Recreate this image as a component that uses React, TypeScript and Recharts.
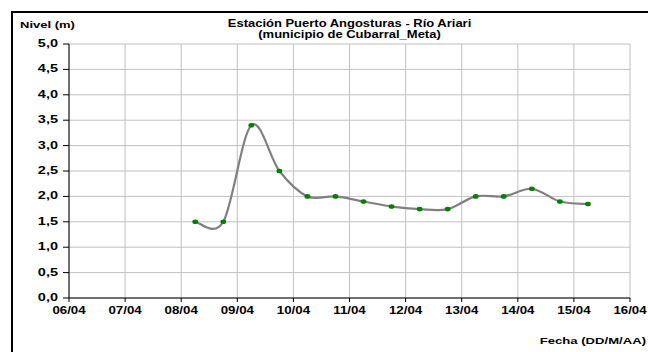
import React from 'react';
import { LineChart, Line, XAxis, YAxis, CartesianGrid } from 'recharts';

// dates on the x axis (one tick per day)
const dayLabels = ['06/04', '07/04', '08/04', '09/04', '10/04', '11/04', '12/04', '13/04', '14/04', '15/04', '16/04'];
const firstDay = 6;

// readings: day of April + hour
const readingDay = [8, 8, 9, 9, 10, 10, 11, 11, 12, 12, 13, 13, 14, 14, 15];
const readingHour = [6, 18, 6, 18, 6, 18, 6, 18, 6, 18, 6, 18, 6, 18, 6];
const nivel = [1.5, 1.5, 3.4, 2.5, 2.0, 2.0, 1.9, 1.8, 1.75, 1.75, 2.0, 2.0, 2.15, 1.9, 1.85];

const yTicks = [0, 0.5, 1, 1.5, 2, 2.5, 3, 3.5, 4, 4.5, 5];

const data = readingDay.map((d, i) => ({
  t: d - firstDay + readingHour[i] / 24,
  nivel: nivel[i],
}));

const xTicks = dayLabels.map((_, i) => i);

const FONT = '"Liberation Sans", Arial, sans-serif';

// Excel style smoothed line (bezier, 1/6 tangents)
const excelCurve = (context: any) => {
  let pts: number[][] = [];
  return {
    areaStart() {},
    areaEnd() {},
    lineStart() {
      pts = [];
    },
    point(x: number, y: number) {
      pts.push([+x, +y]);
    },
    lineEnd() {
      const n = pts.length;
      if (!n) return;
      context.moveTo(pts[0][0], pts[0][1]);
      for (let i = 0; i < n - 1; i++) {
        const p0 = pts[Math.max(i - 1, 0)];
        const p1 = pts[i];
        const p2 = pts[i + 1];
        const p3 = pts[Math.min(i + 2, n - 1)];
        context.bezierCurveTo(
          p1[0] + (p2[0] - p0[0]) / 6,
          p1[1] + (p2[1] - p0[1]) / 6,
          p2[0] - (p3[0] - p1[0]) / 6,
          p2[1] - (p3[1] - p1[1]) / 6,
          p2[0],
          p2[1]
        );
      }
    },
  };
};

const XTick = (props: any) => {
  const { x, y, payload } = props;
  return (
    <g transform={`translate(${x},${y})`}>
      <text transform="scale(1.33,1)" textAnchor="middle" dy="0.72em" fontSize={10} fontWeight="bold" fontFamily={FONT} fill="#000">
        {dayLabels[payload.value]}
      </text>
    </g>
  );
};

const YTick = (props: any) => {
  const { x, y, payload } = props;
  return (
    <g transform={`translate(${x},${y})`}>
      <text transform="scale(1.45,1)" textAnchor="end" dy="0.3em" fontSize={10} fontWeight="bold" fontFamily={FONT} fill="#000">
        {payload.value.toFixed(1).replace('.', ',')}
      </text>
    </g>
  );
};

const Dot = (props: any) => {
  const { cx, cy, index } = props;
  return <ellipse key={`dot-${index}`} cx={cx} cy={cy} rx={2.9} ry={2.3} fill="#008000" />;
};

const Label = ({ x, y, anchor, size, sx, children }: any) => (
  <g transform={`translate(${x},${y})`}>
    <text transform={`scale(${sx},1)`} textAnchor={anchor} fontSize={size} fontWeight="bold" fontFamily={FONT} fill="#000">
      {children}
    </text>
  </g>
);

export default function App() {
  return (
    <div style={{ position: 'fixed', left: 0, top: 0, width: 648, height: 352, overflow: 'hidden', background: '#fff' }}>
      <div style={{ position: 'absolute', left: 11, top: 11, width: 700, height: 400, border: '2px solid #000' }} />
      <div style={{ position: 'absolute', left: 0, top: 0 }}>
        <LineChart width={648} height={352} data={data} margin={{ top: 44, right: 18, left: 0, bottom: 24 }}>
          <CartesianGrid stroke="#c0c0c0" strokeWidth={1} />
          <XAxis
            type="number"
            dataKey="t"
            domain={[0, 10]}
            ticks={xTicks}
            interval={0}
            height={30}
            tick={<XTick />}
            tickSize={4}
            tickMargin={5}
            axisLine={{ stroke: '#000' }}
            tickLine={{ stroke: '#000' }}
          />
          <YAxis
            type="number"
            domain={[0, 5]}
            ticks={yTicks}
            interval={0}
            width={69}
            tick={<YTick />}
            tickSize={6}
            tickMargin={5}
            axisLine={{ stroke: '#000' }}
            tickLine={{ stroke: '#000' }}
          />
          <Line
            type={excelCurve as any}
            dataKey="nivel"
            stroke="#808080"
            strokeWidth={2.2}
            dot={Dot}
            activeDot={false}
            isAnimationActive={false}
          />
        </LineChart>
      </div>
      <svg width={648} height={352} style={{ position: 'absolute', left: 0, top: 0, pointerEvents: 'none' }}>
        <Label x={349.5} y={26.6} anchor="middle" size={10} sx={1.3}>Estación Puerto Angosturas - Río Ariari</Label>
        <Label x={349.5} y={38} anchor="middle" size={10} sx={1.3}>(municipio de Cubarral_Meta)</Label>
        <Label x={20} y={28.3} anchor="start" size={9.5} sx={1.37}>Nivel (m)</Label>
        <Label x={646} y={344} anchor="end" size={9.5} sx={1.38}>Fecha (DD/M/AA)</Label>
      </svg>
    </div>
  );
}
